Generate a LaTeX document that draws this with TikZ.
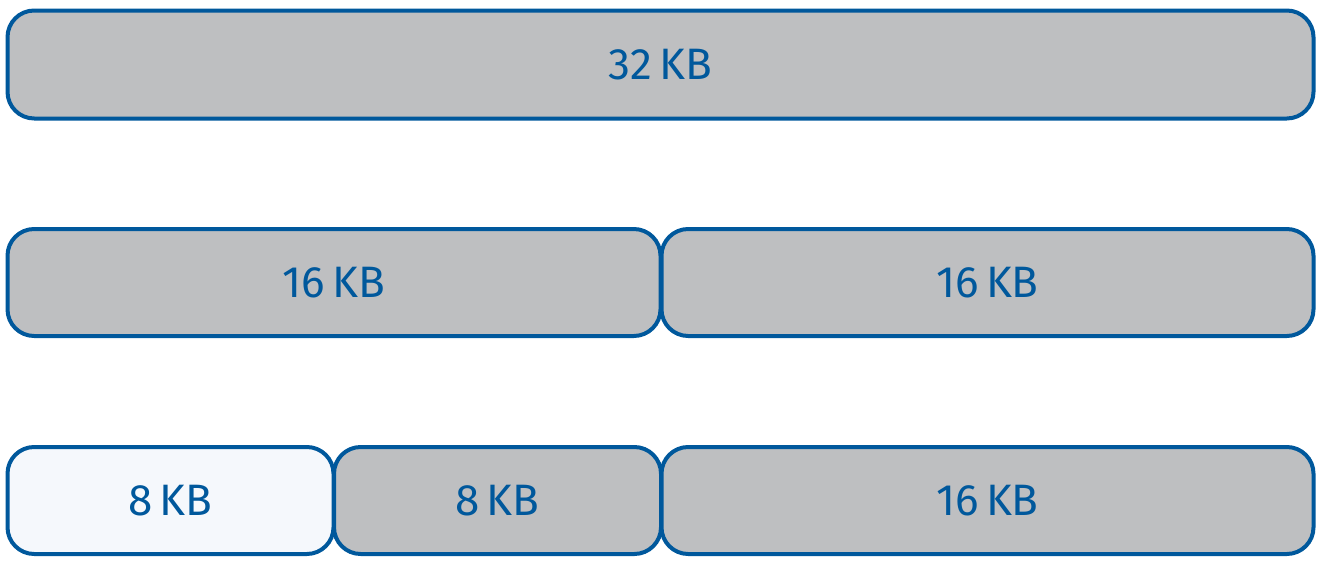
\documentclass[tikz,border=0pt]{standalone}
\usepackage{fontspec}
\setmainfont{Fira Sans}
\definecolor{bblue}{HTML}{00589C}
\definecolor{bgray}{HTML}{BEBFC1}
\definecolor{blight}{HTML}{F5F8FC}
\begin{document}
\begin{tikzpicture}[x=0.75pt,y=-0.75pt,
  blk/.style={draw=bblue,line width=3pt,fill=bgray,rounded corners=20pt,text=bblue,font=\fontsize{33}{36}\selectfont},
  free/.style={blk,fill=blight}]
\useasboundingbox (0,0) rectangle (1328,564);
\node[blk,minimum width=1306*0.75pt,minimum height=108*0.75pt] (a) at (660.5,64.5) {\raisebox{-1.5pt}{32\,KB}};
\node[blk,minimum width=653*0.75pt,minimum height=107*0.75pt] (b1) at (334,282.5) {\raisebox{-1.5pt}{16\,KB}};
\node[blk,minimum width=652*0.75pt,minimum height=107*0.75pt] (b2) at (987.5,282.5) {\raisebox{-1.5pt}{16\,KB}};
\node[free,minimum width=326*0.75pt,minimum height=107*0.75pt] (c1) at (170.5,500.5) {\raisebox{-1.5pt}{8\,KB}};
\node[blk,minimum width=327*0.75pt,minimum height=107*0.75pt] (c2) at (497.5,500.5) {\raisebox{-1.5pt}{8\,KB}};
\node[blk,minimum width=652*0.75pt,minimum height=107*0.75pt] (c3) at (987.5,500.5) {\raisebox{-1.5pt}{16\,KB}};
\end{tikzpicture}
\end{document}
